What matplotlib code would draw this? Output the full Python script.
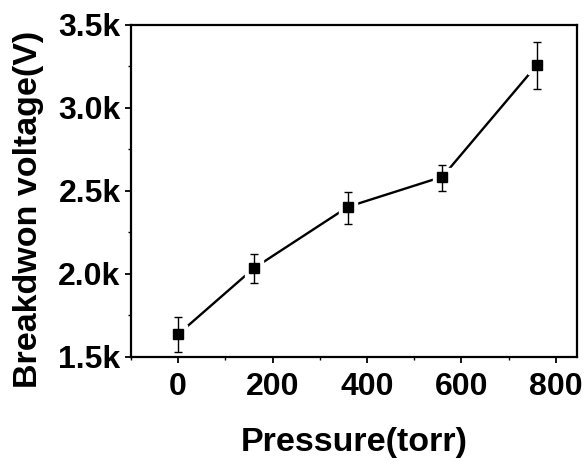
import matplotlib
matplotlib.use("Agg")
import matplotlib.pyplot as plt
from matplotlib.ticker import MultipleLocator, FuncFormatter

# data
pressure = [0, 160, 360, 560, 760]
voltage = [1637, 2034, 2405, 2586, 3259]
err_low = [105, 90, 105, 84, 146]
err_high = [106, 85, 87, 71, 137]

plt.rcParams['font.family'] = ['Liberation Sans', 'DejaVu Sans']
plt.rcParams['font.weight'] = 'bold'

fig = plt.figure(figsize=(5.84, 4.61), dpi=100)
ax = fig.add_axes([0.2243, 0.2256, 0.7637, 0.7202])

# line with a small gap around each marker (white halo)
ax.plot(pressure, voltage, color='black', lw=1.7, zorder=2)
ax.plot(pressure, voltage, ls='none', marker='s', ms=12.5, mfc='white', mec='white', zorder=3)
ax.errorbar(pressure, voltage, yerr=[err_low, err_high], fmt='none', ecolor='black',
            elinewidth=1.0, capsize=3.2, capthick=1.0, zorder=4)
ax.plot(pressure, voltage, ls='none', marker='s', ms=7.5, mfc='black', mec='black', zorder=5)

ax.set_xlim(-100, 845)
ax.set_ylim(1500, 3500)
ax.xaxis.set_major_locator(MultipleLocator(200))
ax.xaxis.set_minor_locator(MultipleLocator(100))
ax.yaxis.set_major_locator(MultipleLocator(500))
ax.yaxis.set_minor_locator(MultipleLocator(250))
ax.yaxis.set_major_formatter(FuncFormatter(lambda v, p: f'{v/1000:.1f}k'))

for s in ax.spines.values():
    s.set_linewidth(1.6)
ax.tick_params(which='major', direction='out', length=4.5, width=1.3, labelsize=23, pad=3)
ax.tick_params(which='minor', direction='out', length=2.5, width=1.0)
ax.tick_params(axis='x', which='major', pad=6)

ax.set_xlabel('Pressure(torr)', fontsize=24.5, fontweight='bold', labelpad=18)
ax.set_ylabel('Breakdwon voltage(V)', fontsize=24.5, fontweight='bold')
ax.yaxis.set_label_coords(-0.195, 0.446)

fig.savefig('out.png', dpi=100)
